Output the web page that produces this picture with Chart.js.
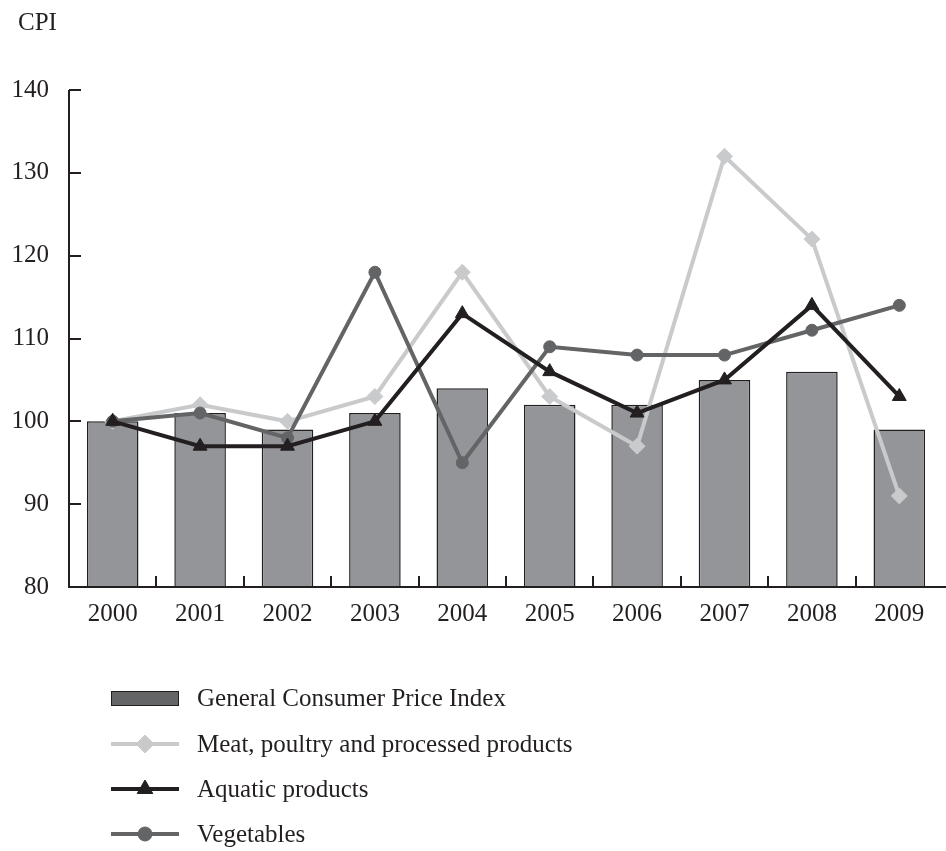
<!DOCTYPE html>
<html>
<head>
<meta charset="utf-8">
<title>CPI</title>
<script src="https://cdn.jsdelivr.net/npm/chart.js@4.4.1/dist/chart.umd.min.js"></script>
<style>
  html, body { margin: 0; padding: 0; background: #fff; overflow: hidden; }
  canvas { display: block; }
</style>
</head>
<body>
<canvas id="cpiChart" width="952" height="851"></canvas>
<script>
// Price indices by year (2000 = 100)
const years = ['2000', '2001', '2002', '2003', '2004', '2005', '2006', '2007', '2008', '2009'];
const generalCpi = [100, 101, 99, 101, 104, 102, 102, 105, 106, 99];
const meatPoultry = [100, 102, 100, 103, 118, 103, 97, 132, 122, 91];
const aquatic = [100, 97, 97, 100, 113, 106, 101, 105, 114, 103];
const vegetables = [100, 101, 98, 118, 95, 109, 108, 108, 111, 114];
const yTicks = [80, 90, 100, 110, 120, 130, 140];
const seriesNames = [
  'General Consumer Price Index',
  'Meat, poultry and processed products',
  'Aquatic products',
  'Vegetables'
];

const INK = '#231f20';
const FONT = "'Liberation Serif', 'Times New Roman', serif";
const BAR_LEGEND_FILL = '#646567';

// axis lines with inward tick marks + "CPI" label
const axisPlugin = {
  id: 'axisLines',
  afterDatasetsDraw(chart) {
    const { ctx, chartArea, scales } = chart;
    const x = scales.x, y = scales.y;
    ctx.save();
    ctx.strokeStyle = INK;
    ctx.lineWidth = 2;
    ctx.beginPath();
    ctx.moveTo(chartArea.left, y.getPixelForValue(yTicks[yTicks.length - 1]));
    ctx.lineTo(chartArea.left, chartArea.bottom + 1);
    yTicks.forEach(v => {
      const py = Math.round(y.getPixelForValue(v));
      ctx.moveTo(chartArea.left, py);
      ctx.lineTo(chartArea.left + 12, py);
    });
    ctx.moveTo(chartArea.left - 1, chartArea.bottom);
    ctx.lineTo(chart.width, chartArea.bottom);
    for (let i = 1; i < years.length; i++) {
      const px = Math.round((x.getPixelForTick(i - 1) + x.getPixelForTick(i)) / 2);
      ctx.moveTo(px, chartArea.bottom);
      ctx.lineTo(px, chartArea.bottom - 11);
    }
    ctx.stroke();

    ctx.fillStyle = INK;
    ctx.font = '25px ' + FONT;
    ctx.textAlign = 'left';
    ctx.textBaseline = 'alphabetic';
    ctx.fillText('CPI', 18, 30);
    ctx.restore();
  }
};

// vertical legend under the chart
const legendPlugin = {
  id: 'stackedLegend',
  afterDraw(chart) {
    const { ctx } = chart;
    const sx = 111, sw = 68, textX = 197;
    const baselines = [706, 752, 797, 842];
    ctx.save();
    chart.data.datasets.forEach((ds, i) => {
      const cy = baselines[i] - 8;
      if (ds.type === 'bar') {
        ctx.fillStyle = BAR_LEGEND_FILL;
        ctx.fillRect(sx, cy - 7, sw, 15);
        ctx.strokeStyle = INK;
        ctx.lineWidth = 1;
        ctx.strokeRect(sx + 0.5, cy - 6.5, sw - 1, 14);
      } else {
        ctx.strokeStyle = ds.borderColor;
        ctx.lineWidth = ds.borderWidth;
        ctx.beginPath();
        ctx.moveTo(sx, cy);
        ctx.lineTo(sx + sw, cy);
        ctx.stroke();
        ctx.fillStyle = ds.backgroundColor;
        ctx.lineWidth = 1;
        Chart.helpers.drawPoint(ctx, {
          pointStyle: ds.pointStyle,
          radius: ds.pointRadius + 1,
          rotation: 0,
          borderWidth: 1
        }, sx + sw / 2, cy);
      }
      ctx.fillStyle = INK;
      ctx.font = '25px ' + FONT;
      ctx.textAlign = 'left';
      ctx.textBaseline = 'alphabetic';
      ctx.fillText(seriesNames[i], textX, baselines[i]);
    });
    ctx.restore();
  }
};

const ctx = document.getElementById('cpiChart').getContext('2d');
new Chart(ctx, {
  data: {
    labels: years,
    datasets: [
      {
        type: 'bar',
        label: seriesNames[0],
        data: generalCpi,
        backgroundColor: '#939598',
        borderColor: INK,
        borderWidth: 1.5,
        barPercentage: 0.59,
        categoryPercentage: 1,
        order: 10
      },
      {
        type: 'line',
        label: seriesNames[1],
        data: meatPoultry,
        borderColor: '#c9cacc',
        backgroundColor: '#c9cacc',
        borderWidth: 4,
        pointStyle: 'rectRot',
        pointRadius: 8,
        pointBorderWidth: 1,
        tension: 0,
        order: 3
      },
      {
        type: 'line',
        label: seriesNames[2],
        data: aquatic,
        borderColor: INK,
        backgroundColor: INK,
        borderWidth: 4,
        pointStyle: 'triangle',
        pointRadius: 8,
        pointBorderWidth: 1,
        tension: 0,
        order: 1
      },
      {
        type: 'line',
        label: seriesNames[3],
        data: vegetables,
        borderColor: '#636466',
        backgroundColor: '#636466',
        borderWidth: 4,
        pointStyle: 'circle',
        pointRadius: 6,
        pointBorderWidth: 1,
        tension: 0,
        order: 2
      }
    ]
  },
  options: {
    responsive: false,
    animation: false,
    layout: { padding: { top: 90, left: 0, right: 0, bottom: 214 } },
    plugins: {
      legend: { display: false },
      tooltip: { enabled: false }
    },
    scales: {
      x: {
        grid: { display: false, drawTicks: false },
        border: { display: false },
        ticks: { color: INK, font: { family: FONT, size: 25 }, padding: 12, maxRotation: 0 },
        afterFit: s => { s.height = 50; }
      },
      y: {
        min: 80,
        max: 140,
        grid: { display: false, drawTicks: false },
        border: { display: false },
        ticks: { stepSize: 10, color: INK, font: { family: FONT, size: 25 }, padding: 20 },
        afterFit: s => { s.width = 69; }
      }
    }
  },
  plugins: [axisPlugin, legendPlugin]
});
</script>
</body>
</html>
